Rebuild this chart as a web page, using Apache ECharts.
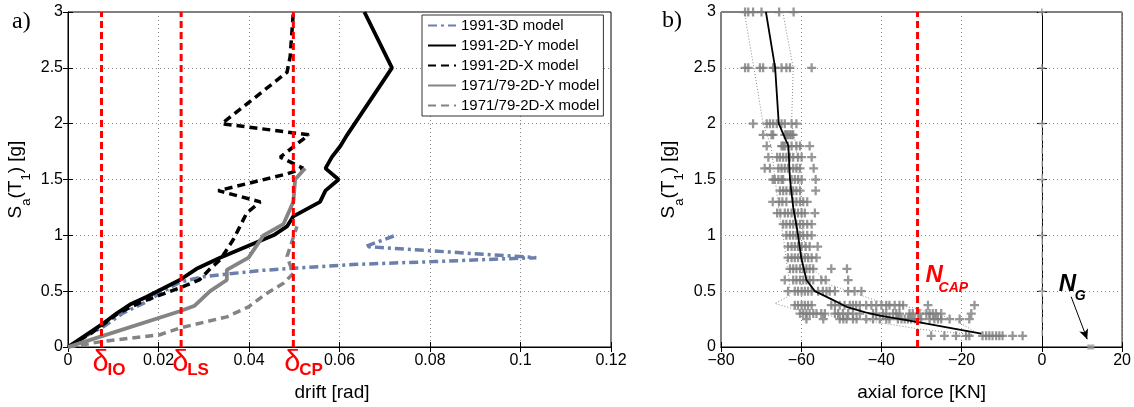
<!DOCTYPE html>
<html>
<head>
<meta charset="utf-8">
<script src="https://cdn.jsdelivr.net/npm/echarts@6/dist/echarts.min.js"></script>
<style>
  html, body { margin: 0; padding: 0; background: #fff; }
  #main { width: 1134px; height: 407px; }
</style>
</head>
<body>
<div id="main"></div>
<script>
// ---- panel a) : IDA curves, [drift, Sa]
var ida3D = [[0, 0], [0.004, 0.1], [0.0078, 0.18], [0.012, 0.3], [0.0166, 0.39], [0.0203, 0.48], [0.0247, 0.58], [0.030, 0.63], [0.0425, 0.685], [0.0498, 0.705], [0.0639, 0.74], [0.0808, 0.765], [0.100, 0.795], [0.1035, 0.80], [0.0657, 0.90], [0.0724, 1.0]]
var ida2DY = [[0, 0], [0.0074, 0.2], [0.0107, 0.3], [0.0137, 0.38], [0.0174, 0.45], [0.0247, 0.6], [0.0284, 0.7], [0.0336, 0.8], [0.0395, 0.9], [0.0454, 1.0], [0.0484, 1.08], [0.0498, 1.17], [0.0557, 1.3], [0.0569, 1.4], [0.0598, 1.5], [0.0569, 1.6], [0.0583, 1.7], [0.0602, 1.8], [0.0617, 1.9], [0.0716, 2.5], [0.0655, 3.0]]
var ida2DX = [[0, 0], [0.005, 0.12], [0.0074, 0.19], [0.011, 0.3], [0.016, 0.4], [0.02, 0.46], [0.0247, 0.53], [0.029, 0.6], [0.0314, 0.7], [0.0336, 0.78], [0.0365, 0.96], [0.0395, 1.2], [0.0425, 1.3], [0.0332, 1.4], [0.0484, 1.55], [0.052, 1.6], [0.0469, 1.7], [0.0532, 1.9], [0.034, 2.0], [0.0484, 2.46], [0.0491, 2.6], [0.0498, 3.0]]
var idaOld2DY = [[0, 0], [0.0077, 0.1], [0.0247, 0.32], [0.028, 0.37], [0.0314, 0.5], [0.0351, 0.6], [0.0351, 0.69], [0.0399, 0.8], [0.0432, 1.0], [0.0476, 1.1], [0.0498, 1.3], [0.0502, 1.5], [0.0524, 1.6]]
var idaOld2DX = [[0, 0], [0.0077, 0.05], [0.0203, 0.11], [0.0247, 0.17], [0.0351, 0.27], [0.0399, 0.36], [0.0439, 0.48], [0.0476, 0.57], [0.0498, 0.66], [0.0484, 0.81], [0.0506, 1.08]]
var seriesNames = ['1991-3D model', '1991-2D-Y model', '1991-2D-X model', '1971/79-2D-Y model', '1971/79-2D-X model']
var limitDrift = [0.0074, 0.025, 0.0498]
var limitNames = ['IO', 'LS', 'CP']

// ---- panel b) : axial force [KN] per Sa level
var rowSa = [3.0, 2.5, 2.0, 1.9, 1.8, 1.7, 1.6, 1.5, 1.4, 1.3, 1.2, 1.1, 1.0, 0.9, 0.8, 0.7, 0.6, 0.5, 0.375, 0.3, 0.25, 0.1]
var rowForce = [
  [-74.0, -73.2, -72.0, -69.9, -65.5, -61.9],
  [-74.0, -73.2, -70.3, -69.5, -67.0, -66.6, -64.9, -63.7, -62.8, -57.4],
  [-72.0, -68.6, -67.8, -67.0, -66.1, -64.9, -64.1, -62.4, -61.2],
  [-69.5, -67.4, -67.0, -64.1, -63.7, -63.3, -62.8, -62.4, -62.0],
  [-68.6, -64.9, -64.5, -64.1, -63.3, -62.4, -61.2, -60.3, -57.9],
  [-68.2, -66.0, -65.3, -64.5, -63.7, -62.8, -62.0, -60.8, -59.9, -57.4],
  [-69.1, -67.8, -65.7, -64.9, -64.1, -63.3, -62.0, -61.2, -60.3, -56.9],
  [-67.1, -66.6, -65.7, -64.9, -64.5, -62.4, -61.6, -60.8, -59.9, -56.4],
  [-65.3, -64.5, -63.7, -62.8, -62.0, -61.2, -60.3, -56.4],
  [-67.1, -65.5, -64.7, -63.7, -62.0, -61.2, -60.3, -59.5, -58.5],
  [-66.0, -65.2, -64.1, -63.3, -62.4, -61.6, -60.8, -59.9, -59.1, -56.6],
  [-64.5, -63.7, -62.8, -62.0, -61.2, -60.3, -59.5, -58.5, -57.4],
  [-63.7, -62.8, -62.0, -61.2, -60.3, -59.5, -58.5, -57.4],
  [-63.3, -62.4, -61.6, -60.8, -59.9, -58.9, -57.9, -55.9],
  [-63.3, -62.4, -61.6, -60.8, -59.9, -59.1, -58.3, -57.4, -56.2],
  [-62.8, -62.0, -61.2, -60.3, -59.5, -58.7, -57.9, -57.0, -52.5, -48.6],
  [-64.1, -62.0, -61.2, -60.3, -59.5, -58.7, -57.9, -57.0, -55.0, -53.9, -48.3],
  [-63.3, -61.6, -60.8, -59.9, -59.1, -58.3, -57.4, -55.8, -54.6, -53.7, -52.9, -51.6, -48.3, -46.7, -45.0],
  [-61.6, -60.8, -59.9, -59.1, -58.3, -57.4, -52.5, -51.6, -50.4, -49.2, -47.9, -47.1, -46.3, -45.4, -43.8, -42.5, -41.3, -40.0, -38.8, -38.0, -36.7, -35.5, -34.6, -28.4, -16.8],
  [-60.3, -59.5, -58.7, -57.9, -57.0, -56.2, -55.0, -54.1, -51.6, -50.8, -49.6, -48.3, -47.1, -45.4, -42.1, -41.3, -39.6, -38.8, -37.1, -36.3, -35.5, -33.0, -32.2, -30.5, -28.8, -28.0, -27.2, -26.4, -25.1, -17.6],
  [-58.7, -54.5, -50.4, -49.5, -48.7, -47.1, -46.2, -43.8, -42.1, -40.4, -38.8, -38.0, -35.9, -35.0, -34.2, -33.4, -32.6, -31.7, -30.9, -30.1, -28.0, -26.8, -25.9, -25.1, -23.0, -20.5, -18.1],
  [-27.6, -24.3, -21.4, -18.9, -18.1, -14.8, -13.9, -13.1, -12.3, -11.4, -10.6, -9.8, -7.3, -4.8]
]
var medianForce = [[-68.8, 3.0], [-66.5, 2.5], [-65.6, 2.0], [-63.2, 1.8], [-62.8, 1.5], [-62.0, 1.25], [-61.0, 1.05], [-60.0, 0.8], [-58.7, 0.6], [-56.6, 0.5], [-52.0, 0.42], [-48.7, 0.36], [-44.0, 0.31], [-40.4, 0.28], [-30.5, 0.22], [-15.1, 0.12]]
var lowForce = [[-74.2, 3.0], [-71.8, 2.5], [-69.5, 2.0], [-67.5, 1.8], [-66.5, 1.5], [-65.5, 1.2], [-64.5, 1.0], [-63.8, 0.8], [-63.0, 0.6], [-62.8, 0.46], [-66.6, 0.39], [-58.0, 0.3], [-46.0, 0.25], [-30.5, 0.16], [-17.0, 0.11]]
var highForce = [[-64.6, 3.0], [-62.0, 2.5], [-62.4, 2.0], [-61.3, 1.8], [-60.5, 1.5], [-60.0, 1.2], [-59.5, 1.0], [-58.5, 0.8], [-57.0, 0.7], [-53.0, 0.56], [-40.0, 0.4], [-32.0, 0.35], [-22.0, 0.25], [-16.4, 0.13]]
var zeroSa = [3.0, 2.5, 2.0, 1.5, 1.0, 0.5]
var nCap = -31
var nGravity = 12.2
var nGArrow = [[7.3, 0.45], [11.3, 0.07]]

var FONT = 'Liberation Sans'
var plusIcon = 'path://M3,0h2v3h3v2h-3v3h-2v-3h-3v-2h3z'

var scatterPts = []
for (var i = 0; i < rowSa.length; i++) {
  for (var j = 0; j < rowForce[i].length; j++) {
    scatterPts.push([rowForce[i][j], rowSa[i]])
  }
}

var chart = echarts.init(document.getElementById('main'))

function mainAxis(idx, pos, min, max, interval, fmt) {
  return {
    type: 'value', gridIndex: idx, position: pos, min: min, max: max, interval: interval,
    axisLine: { show: true, lineStyle: { color: '#000', width: 1 } },
    axisTick: { show: true, inside: true, length: 5, lineStyle: { color: '#000' } },
    axisLabel: { color: '#000', fontSize: 16, fontFamily: FONT, margin: pos === 'left' ? 5 : 6, formatter: fmt },
    splitLine: { show: true, lineStyle: { color: '#888', type: [1, 3], width: 1 } }
  }
}
function mirrorAxis(idx, pos, min, max, interval) {
  return {
    type: 'value', gridIndex: idx, position: pos, min: min, max: max, interval: interval,
    axisLine: { show: true, lineStyle: { color: '#000', width: 1 } },
    axisTick: { show: true, inside: true, length: 5, lineStyle: { color: '#000' } },
    axisLabel: { show: false },
    splitLine: { show: false }
  }
}
var saName = '{m|S}{s|a}{m|(T}{s|1}{m|) [g]}'
var saRich = {
  m: { fontSize: 19, fontFamily: FONT, color: '#000', lineHeight: 22, verticalAlign: 'top' },
  s: { fontSize: 13, fontFamily: FONT, color: '#000', lineHeight: 13, padding: [14, 0, 0, 0], verticalAlign: 'top' }
}
function fmtDrift(v) { return v === 0 ? '0' : String(parseFloat(v.toFixed(2))) }
function fmtForce(v) { return String(v).replace('-', '\u2212') }

var xA = mainAxis(0, 'bottom', 0, 0.12, 0.02, fmtDrift)
xA.name = 'drift [rad]'; xA.nameLocation = 'middle'; xA.nameGap = 36
xA.nameTextStyle = { fontSize: 19, fontFamily: FONT, color: '#000', padding: [0, 15, 0, 0] }
var xB = mainAxis(1, 'bottom', -80, 20, 20, fmtForce)
xB.name = 'axial force [KN]'; xB.nameLocation = 'middle'; xB.nameGap = 36
xB.nameTextStyle = { fontSize: 19, fontFamily: FONT, color: '#000' }
var yA = mainAxis(0, 'left', 0, 3, 0.5)
yA.name = saName; yA.nameLocation = 'middle'; yA.nameGap = 40; yA.nameRotate = 90
yA.nameTextStyle = { rich: saRich }
var yB = mainAxis(1, 'left', 0, 3, 0.5)
yB.name = saName; yB.nameLocation = 'middle'; yB.nameGap = 40; yB.nameRotate = 90
yB.nameTextStyle = { rich: saRich }

function idaLine(name, data, color, width, type) {
  return {
    name: name, type: 'line', xAxisIndex: 0, yAxisIndex: 0, data: data,
    symbol: 'none', showSymbol: false, z: 3,
    lineStyle: { color: color, width: width, type: type },
    itemStyle: { color: color }
  }
}
function vline(xIdx, x, color) {
  return {
    type: 'line', xAxisIndex: xIdx, yAxisIndex: xIdx, data: [[x, 0], [x, 3]],
    symbol: 'none', silent: true, z: 4,
    lineStyle: { color: color, width: 3, type: [7, 4] }
  }
}

var series = [
  idaLine(seriesNames[0], ida3D, '#6a7fab', 3.5, [9, 4, 3, 4]),
  idaLine(seriesNames[1], ida2DY, '#000', 3.8, 'solid'),
  idaLine(seriesNames[2], ida2DX, '#000', 3.5, [8, 5]),
  idaLine(seriesNames[3], idaOld2DY, '#848484', 3.8, 'solid'),
  idaLine(seriesNames[4], idaOld2DX, '#848484', 3.5, [8, 5])
]
limitDrift.forEach(function (d) { series.push(vline(0, d, '#ff0000')) })

series.push({
  type: 'line', xAxisIndex: 1, yAxisIndex: 1, data: [[0, 0.1], [0, 2.0]], symbol: 'none', silent: true,
  lineStyle: { color: '#c8c8c8', width: 1.5, type: [6, 3, 1, 3] }
})
series.push({
  type: 'line', xAxisIndex: 1, yAxisIndex: 1, data: lowForce, symbol: 'none', silent: true,
  lineStyle: { color: '#888', width: 1, type: [1, 2] }
})
series.push({
  type: 'line', xAxisIndex: 1, yAxisIndex: 1, data: highForce, symbol: 'none', silent: true,
  lineStyle: { color: '#888', width: 1, type: [1, 2] }
})
series.push({
  type: 'scatter', xAxisIndex: 1, yAxisIndex: 1, data: scatterPts, symbol: plusIcon, symbolSize: 9,
  itemStyle: { color: '#7c7c7c' }, silent: true
})
series.push({
  type: 'scatter', xAxisIndex: 1, yAxisIndex: 1, data: zeroSa.map(function (s) { return [0, s] }),
  symbol: plusIcon, symbolSize: 7, itemStyle: { color: '#999' }, silent: true
})
series.push({
  type: 'line', xAxisIndex: 1, yAxisIndex: 1, data: medianForce, symbol: 'none', silent: true, z: 4,
  lineStyle: { color: '#000', width: 1.8 }
})
series.push(vline(1, nCap, '#ff0000'))
series.push({
  type: 'scatter', xAxisIndex: 1, yAxisIndex: 1, data: [[nGravity, 0]], symbol: 'rect', symbolSize: [7, 5],
  itemStyle: { color: '#999' }, silent: true, z: 5,
  markLine: {
    silent: true, symbol: ['none', 'arrow'], symbolSize: [7, 10],
    label: { show: false },
    lineStyle: { color: '#000', width: 1, type: 'solid' },
    data: [[{ coord: nGArrow[0] }, { coord: nGArrow[1] }]]
  }
})

chart.setOption({
  animation: false,
  backgroundColor: '#fff',
  grid: [
    { left: 68, top: 12, width: 543, height: 335, show: true, borderColor: '#000', borderWidth: 1, backgroundColor: 'transparent' },
    { left: 721, top: 12, width: 402, height: 335, show: true, borderColor: '#000', borderWidth: 1, backgroundColor: 'transparent' }
  ],
  xAxis: [xA, xB, mirrorAxis(0, 'top', 0, 0.12, 0.02), mirrorAxis(1, 'top', -80, 20, 20)],
  yAxis: [yA, yB, mirrorAxis(0, 'right', 0, 3, 0.5), mirrorAxis(1, 'right', 0, 3, 0.5)],
  legend: {
    data: seriesNames, orient: 'vertical', left: 422, top: 15,
    itemWidth: 28, itemHeight: 15, itemGap: 5,
    padding: [3, 4, 3, 5],
    backgroundColor: '#fff', borderColor: '#333', borderWidth: 1,
    itemStyle: { opacity: 0 },
    textStyle: { fontSize: 15, fontFamily: FONT, color: '#000' },
    selectedMode: false
  },
  series: series
})

// annotations placed from data coordinates
var gfx = [
  { type: 'text', left: 12, top: 10, style: { text: 'a)', font: '24px "Liberation Serif"', fill: '#000' } },
  { type: 'text', left: 662, top: 9, style: { text: 'b)', font: '24px "Liberation Serif"', fill: '#000' } }
]
limitDrift.forEach(function (d, k) {
  var p = chart.convertToPixel({ xAxisIndex: 0, yAxisIndex: 0 }, [d, 0])
  gfx.push({ type: 'text', x: p[0] - 9, y: p[1] + 1, style: { text: '\u03b4', font: '29px "Liberation Sans"', fill: '#ff0000', verticalAlign: 'top' } })
  gfx.push({ type: 'text', x: p[0] + 6, y: p[1] + 15, style: { text: limitNames[k], font: 'bold 17px "Liberation Sans"', fill: '#ff0000', verticalAlign: 'top' } })
})
var pc = chart.convertToPixel({ xAxisIndex: 1, yAxisIndex: 1 }, [nCap, 0.5])
gfx.push({ type: 'text', x: pc[0] + 8, y: pc[1] - 28, style: { text: 'N', font: 'italic bold 24px "Liberation Sans"', fill: '#ff0000', verticalAlign: 'top' } })
gfx.push({ type: 'text', x: pc[0] + 21, y: pc[1] - 10, style: { text: 'CAP', font: 'italic bold 14px "Liberation Sans"', fill: '#ff0000', verticalAlign: 'top' } })
var pg = chart.convertToPixel({ xAxisIndex: 1, yAxisIndex: 1 }, [nGravity, 0])
gfx.push({ type: 'text', x: pg[0] - 32, y: pg[1] - 75, style: { text: 'N', font: 'italic bold 24px "Liberation Sans"', fill: '#000', verticalAlign: 'top' } })
gfx.push({ type: 'text', x: pg[0] - 16, y: pg[1] - 58, style: { text: 'G', font: 'italic bold 14px "Liberation Sans"', fill: '#000', verticalAlign: 'top' } })
chart.setOption({ graphic: gfx })
</script>
</body>
</html>
